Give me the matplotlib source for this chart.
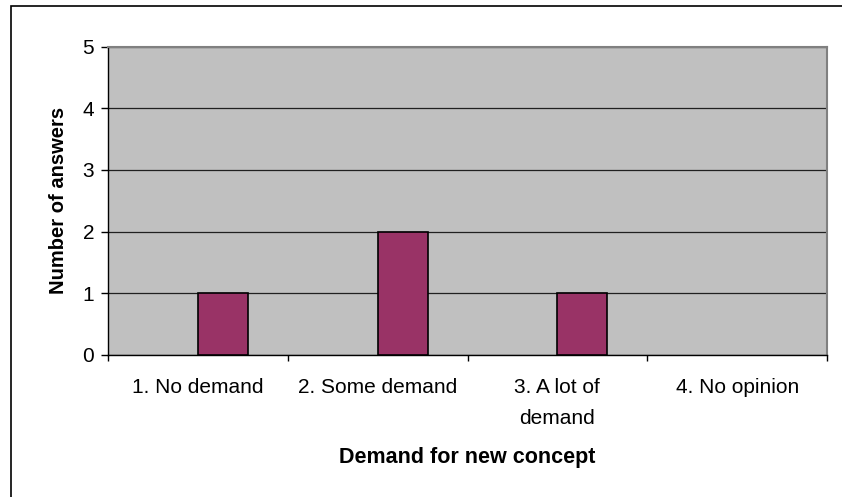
import numpy as np
import matplotlib.pyplot as plt
from matplotlib.patches import Rectangle

plt.rcParams['font.family'] = ['Liberation Sans', 'DejaVu Sans']

# Survey answers
categories = ['1. No demand', '2. Some demand', '3. A lot of\ndemand', '4. No opinion']
answers = [1, 2, 1, 0]

fig = plt.figure(figsize=(8.42, 4.97), dpi=100)
ax = fig.add_axes([108 / 842, 1 - 354.7 / 497, 719 / 842, 308 / 497])
ax.set_facecolor('#c0c0c0')

x = np.arange(len(categories))
bars = ax.bar(x, answers, width=50 / 180, align='edge', color='#993366',
              edgecolor='black', linewidth=1.2, zorder=3)
for b, v in zip(bars, answers):
    if v == 0:
        b.set_linewidth(0)

ax.set_xlim(-0.5, len(categories) - 0.5)
ax.set_ylim(0, 5)
ax.set_yticks(range(6))
ax.yaxis.grid(True, color='#202020', linewidth=0.9, zorder=1)
ax.set_axisbelow(True)

# categories sit between tick marks
ax.set_xticks(np.arange(len(categories) + 1) - 0.5)
ax.set_xticklabels([])
ax.set_xticks(x, minor=True)
ax.set_xticklabels(categories, minor=True, fontsize=15, linespacing=1.75)
ax.tick_params(axis='x', which='minor', length=0, pad=17)
ax.tick_params(axis='x', which='major', length=4.5, width=1, direction='out')
ax.tick_params(axis='y', length=5, width=1, direction='out', labelsize=15, pad=5)

for side in ['top', 'right']:
    ax.spines[side].set_color('#808080')
    ax.spines[side].set_linewidth(1.5)
for side in ['left', 'bottom']:
    ax.spines[side].set_color('black')
    ax.spines[side].set_linewidth(1)

ax.set_ylabel('Number of answers', fontsize=14.5, fontweight='bold', labelpad=10)
ax.set_xlabel('Demand for new concept', fontsize=15.5, fontweight='bold', labelpad=14)

# chart area border
fig.patches.append(Rectangle((11 / 842, -0.1), 1.2, 1 - 6 / 497 + 0.1,
                             transform=fig.transFigure, fill=False,
                             edgecolor='black', linewidth=1.2))

fig.savefig('out.png', dpi=100)
